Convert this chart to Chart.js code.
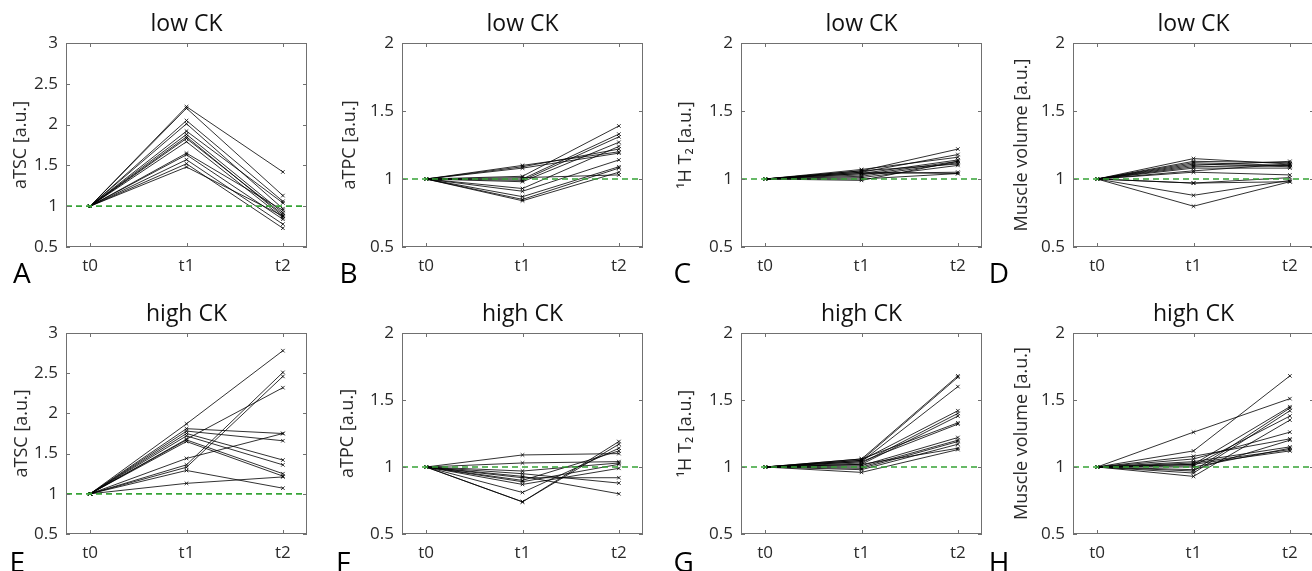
<!DOCTYPE html>
<html>
<head>
<meta charset="utf-8">
<script src="https://cdn.jsdelivr.net/npm/chart.js@4.4.1/dist/chart.umd.min.js"></script>
<style>
  html, body { margin: 0; padding: 0; background: #fff; }
  body { width: 1312px; height: 571px; position: relative; overflow: hidden; font-family: "Open Sans", sans-serif; }
  canvas { position: absolute; }
  .letter { position: absolute; font-size: 28px; line-height: 28px; color: #000; }
</style>
</head>
<body>
<script>
// categories
const timeLabels = ['t0', 't1', 't2'];
const baselineValue = 1; // every subject is normalised to t0

// y tick labels
const tscTicks = [0.5, 1, 1.5, 2, 2.5, 3];
const unitTicks = [0.5, 1, 1.5, 2];

// aTSC
const tscLowT1 = [2.22, 2.20, 2.05, 2.01, 1.92, 1.88, 1.85, 1.83, 1.79, 1.65, 1.63, 1.57, 1.52, 1.48];
const tscLowT2 = [1.42, 1.13, 1.06, 0.97, 1.04, 0.92, 0.88, 0.90, 0.86, 0.95, 0.84, 0.78, 0.73, 0.88];
const tscHighT1 = [1.87, 1.81, 1.78, 1.75, 1.72, 1.67, 1.65, 1.68, 1.44, 1.36, 1.33, 1.29, 1.13];
const tscHighT2 = [2.78, 1.75, 1.66, 1.42, 1.36, 1.25, 1.22, 2.32, 1.75, 2.51, 2.46, 1.07, 1.21];

// aTPC
const tpcLowT1 = [1.10, 1.09, 1.08, 1.02, 1.00, 0.99, 0.98, 0.93, 0.91, 0.87, 0.85, 0.84, 1.01];
const tpcLowT2 = [1.20, 1.22, 1.19, 1.39, 1.33, 1.31, 1.27, 1.24, 1.14, 1.09, 1.08, 1.05, 1.03];
const tpcHighT1 = [1.09, 1.03, 0.97, 0.74, 0.74, 0.81, 0.93, 0.95, 0.92, 0.89, 0.87, 0.90];
const tpcHighT2 = [1.10, 1.04, 1.03, 1.19, 1.17, 1.14, 0.80, 0.88, 0.92, 1.02, 0.99, 1.12];

// 1H T2
const t2LowT1 = [1.06, 1.05, 1.07, 1.04, 1.03, 1.02, 1.06, 1.01, 1.05, 1.00, 0.99, 1.04];
const t2LowT2 = [1.22, 1.18, 1.16, 1.14, 1.13, 1.12, 1.11, 1.10, 1.04, 1.04, 1.13, 1.05];
const t2HighT1 = [1.06, 1.05, 1.04, 1.05, 1.03, 1.02, 1.06, 1.04, 1.01, 1.00, 0.99, 0.98, 1.02, 0.96];
const t2HighT2 = [1.68, 1.67, 1.60, 1.42, 1.40, 1.38, 1.33, 1.32, 1.22, 1.20, 1.19, 1.17, 1.14, 1.13];

// muscle volume
const volLowT1 = [1.15, 1.13, 1.12, 1.11, 1.10, 1.09, 1.08, 1.06, 1.05, 0.97, 0.97, 0.88, 0.80];
const volLowT2 = [1.11, 1.12, 1.10, 1.09, 1.13, 1.10, 1.08, 1.11, 1.03, 0.98, 1.01, 0.99, 0.98];
const volHighT1 = [1.26, 1.12, 1.08, 1.06, 1.04, 1.02, 1.01, 1.00, 0.97, 0.955, 0.93, 1.03, 0.98, 1.02];
const volHighT2 = [1.51, 1.68, 1.21, 1.26, 1.15, 1.12, 1.38, 1.14, 1.44, 1.42, 1.35, 1.13, 1.20, 1.45];

const panels = [
  { letter: 'A', title: 'low CK',  yLabel: 'aTSC [a.u.]',          t1: tscLowT1,  t2: tscLowT2,  yTicks: tscTicks,  col: 0, row: 0, yPad: 14.4 },
  { letter: 'B', title: 'low CK',  yLabel: 'aTPC [a.u.]',          t1: tpcLowT1,  t2: tpcLowT2,  yTicks: unitTicks, col: 1, row: 0, yPad: 7 },
  { letter: 'C', title: 'low CK',  yLabel: '\u00b9H T\u2082 [a.u.]', t1: t2LowT1,   t2: t2LowT2,   yTicks: unitTicks, col: 2, row: 0, yPad: 4.4 },
  { letter: 'D', title: 'low CK',  yLabel: 'Muscle volume [a.u.]', t1: volLowT1,  t2: volLowT2,  yTicks: unitTicks, col: 3, row: 0, yPad: 8 },
  { letter: 'E', title: 'high CK', yLabel: 'aTSC [a.u.]',          t1: tscHighT1, t2: tscHighT2, yTicks: tscTicks,  col: 0, row: 1, yPad: 15.2 },
  { letter: 'F', title: 'high CK', yLabel: 'aTPC [a.u.]',          t1: tpcHighT1, t2: tpcHighT2, yTicks: unitTicks, col: 1, row: 1, yPad: 5.4 },
  { letter: 'G', title: 'high CK', yLabel: '\u00b9H T\u2082 [a.u.]', t1: t2HighT1,  t2: t2HighT2,  yTicks: unitTicks, col: 2, row: 1, yPad: 4.4 },
  { letter: 'H', title: 'high CK', yLabel: 'Muscle volume [a.u.]', t1: volHighT1, t2: volHighT2, yTicks: unitTicks, col: 3, row: 1, yPad: 8 },
];

// geometry of the plot boxes (px)
const colLeft = [66, 402, 741, 1073];
const rowTop = [43, 333];
const rowHeight = [204, 201];
const plotWidth = 241;
const sideMargin = 70;
const topMargin = 36;
const bottomMargin = 36;
const letterLeft = [[13, 339.5, 673.5, 988.7], [9.4, 336, 673.5, 988.7]];
const letterTop = [258, 547];

const axisColor = '#707070';
const textColor = '#2a2a2a';
const refGreen = '#36a336';
const lineColor = 'rgba(0,0,0,0.9)';
const fontFamily = '"Open Sans", sans-serif';

// MATLAB-like box with inward tick marks
const boxPlugin = {
  id: 'matlabBox',
  afterDatasetsDraw(chart) {
    const { ctx, chartArea: a, scales: { x, y } } = chart;
    const len = 4;
    ctx.save();
    ctx.strokeStyle = axisColor;
    ctx.lineWidth = 1;
    ctx.strokeRect(a.left + 0.5, a.top + 0.5, a.right - a.left - 1, a.bottom - a.top - 1);
    ctx.beginPath();
    x.ticks.forEach(t => {
      const px = Math.round(x.getPixelForValue(t.value)) + 0.5;
      ctx.moveTo(px, a.bottom); ctx.lineTo(px, a.bottom - len);
      ctx.moveTo(px, a.top); ctx.lineTo(px, a.top + len);
    });
    y.ticks.forEach(t => {
      const py = Math.round(y.getPixelForValue(t.value)) + 0.5;
      ctx.moveTo(a.left, py); ctx.lineTo(a.left + len, py);
      ctx.moveTo(a.right, py); ctx.lineTo(a.right - len, py);
    });
    ctx.stroke();
    ctx.restore();
  }
};

function buildDatasets(p) {
  const sets = [{
    data: [{ x: -0.25, y: baselineValue }, { x: 0, y: baselineValue }, { x: 2.25, y: baselineValue }],
    borderColor: refGreen,
    borderWidth: 1.7,
    borderDash: [6, 4],
    pointStyle: 'crossRot',
    pointRadius: [0, 2.5, 0],
    pointBorderColor: refGreen,
    pointBorderWidth: 0.9,
  }];
  p.t1.forEach((v, i) => {
    sets.push({
      data: [{ x: 0, y: baselineValue }, { x: 1, y: v }, { x: 2, y: p.t2[i] }],
      borderColor: lineColor,
      borderWidth: 0.9,
      pointStyle: 'crossRot',
      pointRadius: 2.5,
      pointBorderColor: lineColor,
      pointBorderWidth: 0.9,
    });
  });
  return sets;
}

panels.forEach(p => {
  const h = rowHeight[p.row];
  const canvas = document.createElement('canvas');
  canvas.width = plotWidth + 2 * sideMargin;
  canvas.height = h + topMargin + bottomMargin;
  canvas.style.left = (colLeft[p.col] - sideMargin) + 'px';
  canvas.style.top = (rowTop[p.row] - topMargin) + 'px';
  document.body.appendChild(canvas);

  const letter = document.createElement('div');
  letter.className = 'letter';
  letter.textContent = p.letter;
  letter.style.left = letterLeft[p.row][p.col] + 'px';
  letter.style.top = letterTop[p.row] + 'px';
  document.body.appendChild(letter);

  new Chart(canvas, {
    type: 'line',
    data: { datasets: buildDatasets(p) },
    options: {
      responsive: false,
      animation: false,
      layout: { padding: 0 },
      elements: { line: { tension: 0 } },
      plugins: {
        legend: { display: false },
        tooltip: { enabled: false },
        title: {
          display: true,
          text: p.title,
          color: '#111',
          font: { family: fontFamily, size: 23, weight: 'normal', lineHeight: 1.2 },
          padding: { top: 4, bottom: 4.4 },
        },
      },
      scales: {
        x: {
          type: 'linear',
          min: -0.25,
          max: 2.25,
          afterBuildTicks: s => { s.ticks = timeLabels.map((_, i) => ({ value: i })); },
          afterFit: s => { s.height = bottomMargin; },
          grid: { display: false, drawTicks: false },
          border: { display: false },
          ticks: {
            padding: 9,
            color: textColor,
            font: { family: fontFamily, size: 17 },
            callback: v => timeLabels[v],
          },
        },
        y: {
          type: 'linear',
          position: 'left',
          min: p.yTicks[0],
          max: p.yTicks[p.yTicks.length - 1],
          afterBuildTicks: s => { s.ticks = p.yTicks.map(v => ({ value: v })); },
          afterFit: s => { s.width = sideMargin; },
          grid: { display: false, drawTicks: false },
          border: { display: false },
          ticks: {
            padding: 8,
            color: textColor,
            font: { family: fontFamily, size: 17 },
            callback: v => String(v),
          },
          title: {
            display: true,
            text: p.yLabel,
            color: textColor,
            font: { family: fontFamily, size: 18, lineHeight: 1.2 },
            padding: { top: p.yPad, bottom: 0 },
          },
        },
        yRight: {
          type: 'linear',
          position: 'right',
          afterFit: s => { s.width = sideMargin; },
          grid: { display: false, drawTicks: false },
          border: { display: false },
          ticks: { display: false },
        },
      },
    },
    plugins: [boxPlugin],
  });
});
</script>
</body>
</html>
